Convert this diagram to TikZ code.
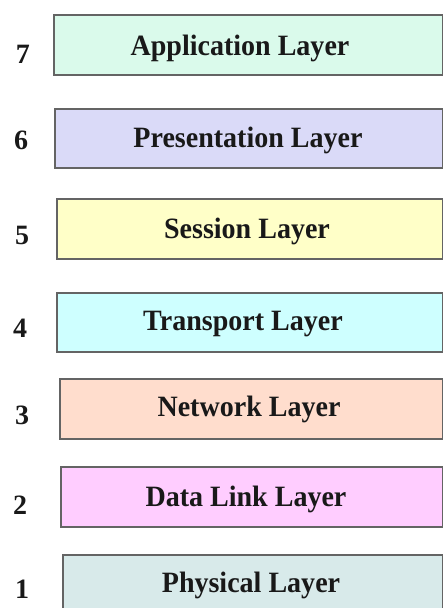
\documentclass[tikz,border=0pt]{standalone}
\usepackage{fontspec}
\usepackage{graphicx}
\setmainfont{Liberation Serif}
\definecolor{c7}{RGB}{218,250,235}
\definecolor{c6}{RGB}{218,218,248}
\definecolor{c5}{RGB}{255,255,200}
\definecolor{c4}{RGB}{206,255,255}
\definecolor{c3}{RGB}{255,221,205}
\definecolor{c2}{RGB}{255,205,255}
\definecolor{c1}{RGB}{216,234,234}
\definecolor{edge}{RGB}{100,100,100}
\newcommand{\lbltxt}[1]{\scalebox{0.95}[1]{#1}}
\tikzset{
  layerbox/.style={draw=edge, line width=1.6pt, rectangle, inner sep=0pt, anchor=north west},
  layertext/.style={font=\fontsize{29.5}{32}\selectfont\bfseries, anchor=base, inner sep=0pt, text=black!90},
  layernum/.style={font=\fontsize{28}{30}\selectfont\bfseries, anchor=base, inner sep=0pt, text=black!90}
}
\begin{document}
\begin{tikzpicture}[x=1pt,y=-1pt]
\useasboundingbox (0,0) rectangle (443,608);
\clip (0,0) rectangle (443,608);
% boxes
\node[layerbox, fill=c7, minimum width=389pt, minimum height=60pt] (b7) at (53,14) {};
\node[layerbox, fill=c6, minimum width=388pt, minimum height=59pt] (b6) at (54,108) {};
\node[layerbox, fill=c5, minimum width=386pt, minimum height=60pt] (b5) at (56,198) {};
\node[layerbox, fill=c4, minimum width=386pt, minimum height=59pt] (b4) at (56,292) {};
\node[layerbox, fill=c3, minimum width=383pt, minimum height=60pt] (b3) at (59,378) {};
\node[layerbox, fill=c2, minimum width=382pt, minimum height=60pt] (b2) at (60,466) {};
\node[layerbox, fill=c1, minimum width=380pt, minimum height=70pt] (b1) at (62,554) {};
% labels
\node[layertext] (t7) at (240,55) {\lbltxt{Application Layer}};
\node[layertext] (t6) at (248,147) {\lbltxt{Presentation Layer}};
\node[layertext] (t5) at (247,238) {\lbltxt{Session Layer}};
\node[layertext] (t4) at (243,330) {\lbltxt{Transport Layer}};
\node[layertext] (t3) at (249,416) {\lbltxt{Network Layer}};
\node[layertext] (t2) at (246,506) {\lbltxt{Data Link Layer}};
\node[layertext] (t1) at (251,592) {\lbltxt{Physical Layer}};
% numbers
\node[layernum] (n7) at (23,63) {7};
\node[layernum] (n6) at (21,149) {6};
\node[layernum] (n5) at (22,244) {5};
\node[layernum] (n4) at (20,337) {4};
\node[layernum] (n3) at (22,424) {3};
\node[layernum] (n2) at (20,514) {2};
\node[layernum] (n1) at (22,598) {1};
\end{tikzpicture}
\end{document}
